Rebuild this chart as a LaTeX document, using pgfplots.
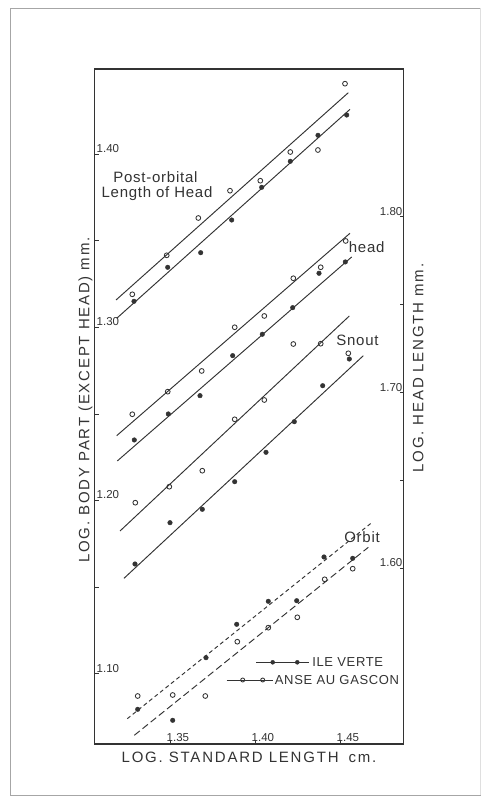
\documentclass[border=0pt]{standalone}
\usepackage{fontspec}
\setmainfont{Liberation Sans}
\newfontfamily\labf[LetterSpace=12]{Liberation Sans}
\newfontfamily\annf[LetterSpace=5]{Liberation Sans}
\usepackage{pgfplots}
\pgfplotsset{compat=1.18}
\definecolor{ink}{gray}{0.2}

\pgfplotsset{
  common/.style={
    width=309pt, height=675pt, scale only axis,
    at={(94.5pt,52pt)}, anchor=south west,
    xmin=1.30559, xmax=1.48735,
    tick align=inside,
    major tick length=4pt, minor tick length=4pt,
    every tick/.style={ink, line width=0.9pt},
    axis line style={ink, line width=1.1pt},
    tick label style={font=\fontsize{11.5}{12}\selectfont, text=ink, inner sep=0pt},
    clip=false,
  },
  openm/.style={only marks, mark=o, mark size=2.4pt, mark options={ink, line width=0.85pt, fill=white}},
  fillm/.style={only marks, mark=*, mark size=2.3pt, mark options={ink, fill=ink}},
  fitl/.style={no marks, ink, line width=0.95pt},
}

\begin{document}
\begin{tikzpicture}[x=1pt,y=1pt]
\useasboundingbox (0,0) rectangle (482,796);
\draw[gray!70, line width=0.9pt] (480.5,787.5) -- (10.5,787.5) -- (10.5,1) -- (480.5,1);
\draw[gray!25, line width=0.8pt] (480.5,787.5) -- (480.5,1);

% ---------- right axis: log head length ----------
\begin{axis}[common,
  ymin=1.4997, ymax=1.8843,
  axis x line=none, axis y line*=right,
  ytick={1.60,1.70,1.80}, yticklabels={1.60,1.70,1.80},
  minor ytick={1.65,1.75},
  yticklabel style={anchor=south east, xshift=-1pt, yshift=1pt},
  ylabel={\labf LOG. HEAD LENGTH mm.},
  every axis y label/.style={at={(axis description cs:1,0.557)}, xshift=14.8pt, rotate=90, anchor=center, font=\fontsize{15}{16}\selectfont, text=ink},
]
% head, Anse au Gascon (open)
\addplot[openm] coordinates {
 (1.32782,1.68758) (1.34865,1.70046) (1.36865,1.71225) (1.38806,1.73715)
 (1.40547,1.74359) (1.42253,1.76507) (1.43865,1.77134) (1.45335,1.78632)};
% head, Ile Verte (filled)
\addplot[fillm] coordinates {
 (1.32900,1.67293) (1.34900,1.68775) (1.36765,1.69818) (1.38688,1.72097)
 (1.40429,1.73316) (1.42218,1.74832) (1.43765,1.76792) (1.45312,1.77436)};
\addplot[fitl] coordinates {(1.31865,1.67538) (1.45588,1.79071)};
\addplot[fitl] coordinates {(1.31900,1.66097) (1.45688,1.77721)};
\end{axis}

% ---------- left axis: log body part ----------
\begin{axis}[common,
  ymin=1.05955, ymax=1.44905,
  xtick={1.35,1.40,1.45}, xticklabels={1.35,1.40,1.45},
  ytick={1.10,1.20,1.30,1.40}, yticklabels={1.10,1.20,1.30,1.40},
  minor ytick={1.15,1.25,1.35},
  xtick pos=left, ytick pos=left,
  xticklabel style={anchor=south west, xshift=-3.5pt, yshift=2pt},
  yticklabel style={anchor=south west, xshift=2pt, yshift=1.5pt},
  xlabel={\labf LOG. STANDARD LENGTH\hspace{4pt} cm.},
  ylabel={\labf LOG. BODY PART (EXCEPT HEAD) mm.},
  every axis x label/.style={at={(axis description cs:0.5,0)}, yshift=-13.5pt, anchor=center, font=\fontsize{15}{16}\selectfont, text=ink},
  every axis y label/.style={at={(axis description cs:0,0.5096)}, xshift=-9pt, rotate=90, anchor=center, font=\fontsize{15}{16}\selectfont, text=ink},
]
% post-orbital length of head
\addplot[openm] coordinates {
 (1.32782,1.31904) (1.34806,1.34155) (1.36665,1.36307) (1.38529,1.37882)
 (1.40312,1.38459) (1.42076,1.40115) (1.43700,1.40231) (1.45294,1.44057)};
\addplot[fillm] coordinates {
 (1.32882,1.31500) (1.34865,1.33462) (1.36806,1.34305) (1.38629,1.36192)
 (1.40394,1.38078) (1.42076,1.39579) (1.43706,1.41079) (1.45394,1.42250)};
\addplot[fitl] coordinates {(1.31824,1.31575) (1.45488,1.43537)};
\addplot[fitl] coordinates {(1.31865,1.30519) (1.45588,1.42579)};
% snout
\addplot[openm] coordinates {
 (1.32959,1.19879) (1.34959,1.20802) (1.36900,1.21725) (1.38806,1.24691)
 (1.40547,1.25805) (1.42253,1.29036) (1.43865,1.29054) (1.45488,1.28500)};
\addplot[fillm] coordinates {
 (1.32941,1.16342) (1.35000,1.18725) (1.36900,1.19498) (1.38806,1.21091)
 (1.40647,1.22787) (1.42312,1.24553) (1.43982,1.26630) (1.45547,1.28171)};
\addplot[fitl] coordinates {(1.32059,1.18246) (1.45547,1.30652)};
\addplot[fitl] coordinates {(1.32294,1.15516) (1.46371,1.28361)};
% orbit
\addplot[openm] coordinates {
 (1.33100,1.08725) (1.35159,1.08783) (1.37076,1.08725) (1.38959,1.11858)
 (1.40782,1.12666) (1.42488,1.13266) (1.44100,1.15459) (1.45747,1.16071)};
\addplot[fillm] coordinates {
 (1.33100,1.07957) (1.35159,1.07323) (1.37118,1.10935) (1.38924,1.12862)
 (1.40782,1.14189) (1.42453,1.14224) (1.44059,1.16746) (1.45747,1.16670)};
\addplot[fitl, dash pattern=on 4pt off 3pt] coordinates {(1.32488,1.07415) (1.46865,1.18725)};
\addplot[fitl, dash pattern=on 7pt off 3.5pt] coordinates {(1.32900,1.06457) (1.46665,1.17305)};
% legend samples
\addplot[fitl] coordinates {(1.40059,1.10669) (1.43194,1.10669)};
\addplot[fillm, mark size=2pt] coordinates {(1.41041,1.10669) (1.42488,1.10669)};
\addplot[fitl] coordinates {(1.38335,1.09648) (1.41076,1.09648)};
\addplot[openm, mark size=2pt] coordinates {(1.39276,1.09648) (1.40453,1.09648)};
\node[anchor=west, inner sep=0pt, text=ink, font={\annf\fontsize{13}{14}\selectfont}] at (axis cs:1.4336,1.10669) {ILE VERTE};
\node[anchor=west, inner sep=0pt, text=ink, font={\annf\fontsize{13}{14}\selectfont}] at (axis cs:1.4116,1.09648) {ANSE AU GASCON};
% curve labels
\node[inner sep=0pt, text=ink, font={\annf\fontsize{15}{16}\selectfont}] at (axis cs:1.34141,1.38690) {Post-orbital};
\node[inner sep=0pt, text=ink, font={\annf\fontsize{15}{16}\selectfont}] at (axis cs:1.34235,1.37732) {Length of Head};
\node[inner sep=0pt, text=ink, font={\annf\fontsize{15}{16}\selectfont}] at (axis cs:1.46570,1.34651) {head};
\node[inner sep=0pt, text=ink, font={\annf\fontsize{15}{16}\selectfont}] at (axis cs:1.46029,1.29267) {Snout};
\node[inner sep=0pt, text=ink, font={\annf\fontsize{15}{16}\selectfont}] at (axis cs:1.46294,1.17917) {Orbit};
\end{axis}
\end{tikzpicture}
\end{document}
